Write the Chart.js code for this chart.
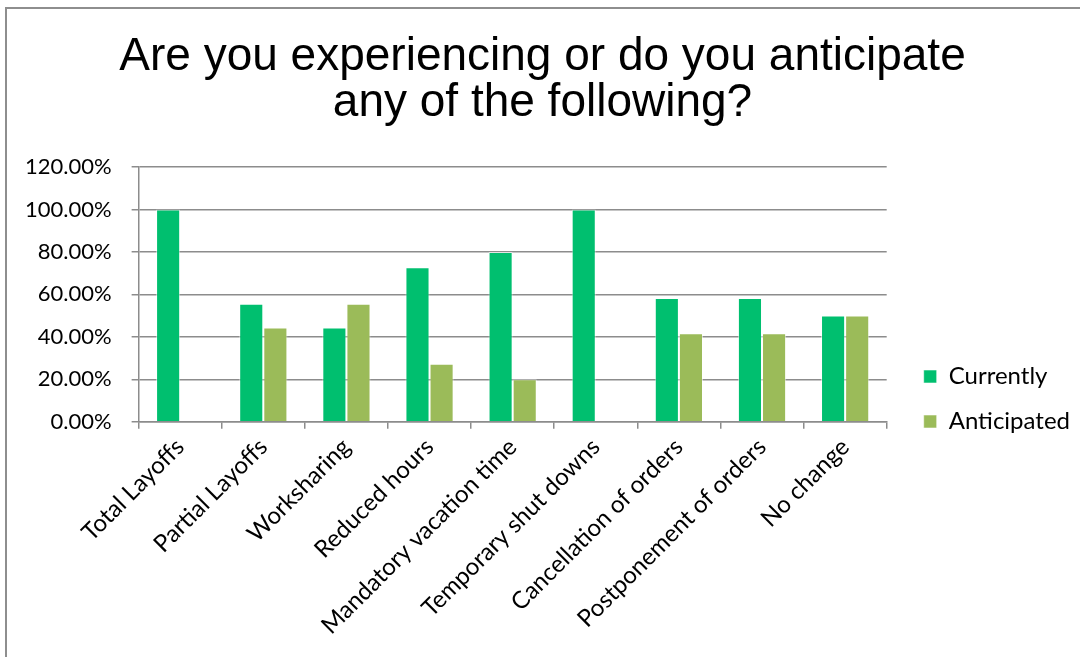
<!DOCTYPE html>
<html>
<head>
<meta charset="utf-8">
<script src="https://cdn.jsdelivr.net/npm/chart.js@4/dist/chart.umd.min.js"></script>
<style>
  html, body { margin: 0; padding: 0; background: #ffffff; }
  #frame {
    position: absolute; left: 5px; top: 7px; width: 1080px; height: 660px;
    border-top: 2px solid #8e8e8e; border-left: 2px solid #8e8e8e;
    box-sizing: border-box;
  }
  #wrap { position: absolute; left: 0; top: 0; width: 1080px; height: 657px; }
</style>
</head>
<body>
<div id="frame"></div>
<div id="wrap"><canvas id="chart"></canvas></div>
<script>
// Survey answers, percent of respondents
const categories = [
  'Total Layoffs', 'Partial Layoffs', 'Worksharing', 'Reduced hours',
  'Mandatory vacation time', 'Temporary shut downs', 'Cancellation of orders',
  'Postponement of orders', 'No change'
];
const currently   = [100, 55.56, 44.44, 72.73, 80, 100, 58.33, 58.33, 50];
const anticipated = [0, 44.44, 55.56, 27.27, 20, 0, 41.67, 41.67, 50];
const yTicks = [0, 20, 40, 60, 80, 100, 120];

const gridGray = '#8c8c8c';
const axisFont = { family: 'Lato', size: 22 };
const labelFont = { family: 'Lato', size: 24 };

new Chart(document.getElementById('chart'), {
  type: 'bar',
  data: {
    labels: categories,
    datasets: [
      { label: 'Currently', data: currently, backgroundColor: '#00BF6F',
        borderColor: 'rgba(255,255,255,0.55)', borderWidth: 1 },
      { label: 'Anticipated', data: anticipated, backgroundColor: '#9BBB59',
        borderColor: 'rgba(255,255,255,0.55)', borderWidth: 1 }
    ]
  },
  options: {
    responsive: true,
    maintainAspectRatio: false,
    animation: false,
    datasets: { bar: { categoryPercentage: 0.58, barPercentage: 1.0 } },
    layout: { padding: { left: 5, right: 0, top: 0, bottom: 13 } },
    plugins: {
      title: {
        display: true,
        text: ['Are you experiencing or do you anticipate', 'any of the following?'],
        color: '#000000',
        font: { family: 'Liberation Sans', size: 46, weight: 'normal', lineHeight: 1.0 },
        padding: { top: 34, bottom: 41 }
      },
      legend: {
        position: 'right',
        // empty title block pushes the entries down beside the plot
        title: { display: true, text: '', font: { size: 10 }, padding: { top: 142, bottom: 0 } },
        labels: {
          boxWidth: 13, boxHeight: 13, padding: 21,
          color: '#000000', font: labelFont
        }
      },
      tooltip: { enabled: false }
    },
    scales: {
      y: {
        min: 0, max: 120,
        afterBuildTicks: (axis) => { axis.ticks = yTicks.map(v => ({ value: v })); },
        ticks: {
          color: '#000000', font: axisFont, padding: 20,
          callback: (v) => v.toFixed(2) + '%'
        },
        grid: { color: gridGray, lineWidth: 1.5, tickLength: 7 },
        border: { color: gridGray, width: 1.5 }
      },
      // blank spacer between the plot and the legend
      gap: {
        type: 'linear', position: 'right', display: true,
        grid: { display: false }, ticks: { display: false }, border: { display: false },
        afterFit: (s) => { s.width = 16; }
      },
      x: {
        ticks: { color: '#000000', font: labelFont, maxRotation: 45, minRotation: 45, padding: 4 },
        grid: { drawOnChartArea: false, offset: true, color: gridGray, lineWidth: 1.5, tickLength: 7 },
        border: { color: gridGray, width: 1.5 }
      }
    }
  }
});
</script>
</body>
</html>
